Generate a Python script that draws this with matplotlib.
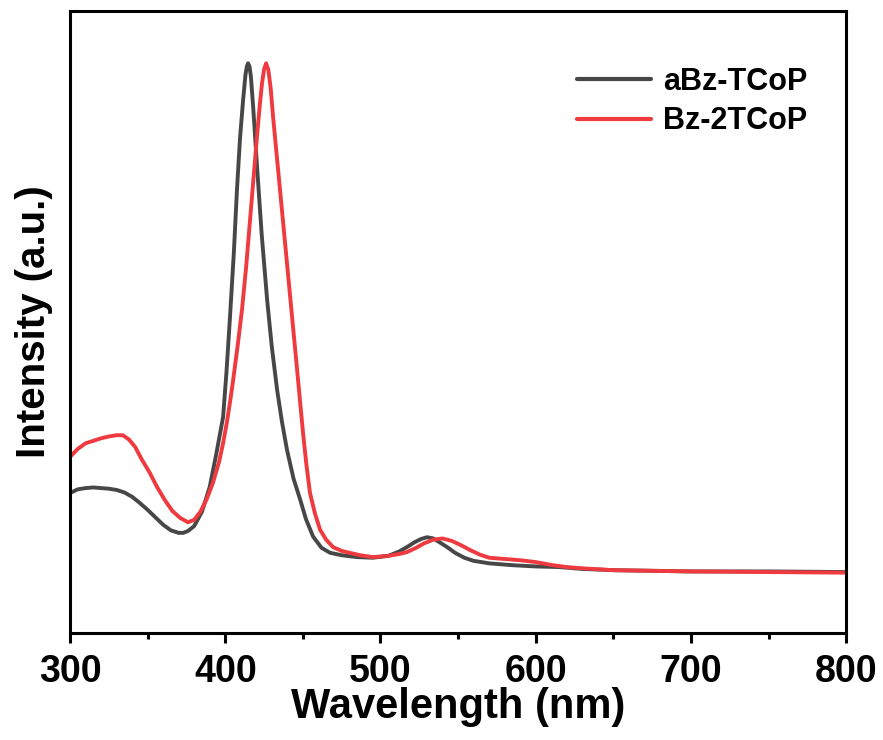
import matplotlib

matplotlib.use('Agg')

import matplotlib.pyplot as plt

# UV-vis absorption spectra (normalised intensity, read per wavelength)
wl_abz = [300, 305, 310, 315, 320, 325, 330, 335, 340, 345, 350, 355, 360,
          365, 370, 373, 376, 380, 385, 390, 394, 398.6, 400.8, 403.1, 405.5,
          407.6, 409.5, 411.5, 413, 413.9, 414.7, 415.6, 416.5, 418, 420.5,
          423.5, 427, 430, 433.4, 436.5, 439.8, 444, 448.2, 452, 456.6, 462,
          467.5, 475, 485, 495, 505, 512, 517, 522, 526, 530, 534, 538, 543,
          548, 554, 560, 570, 585, 600, 615, 630, 650, 700, 750, 800]
int_abz = [0.225, 0.231, 0.233, 0.234, 0.233, 0.232, 0.230, 0.226, 0.219,
           0.209, 0.198, 0.186, 0.174, 0.165, 0.161, 0.161, 0.164, 0.172,
           0.195, 0.235, 0.285, 0.347, 0.420, 0.510, 0.610, 0.715, 0.795,
           0.857, 0.897, 0.911, 0.916, 0.911, 0.895, 0.845, 0.749, 0.640,
           0.535, 0.460, 0.391, 0.340, 0.294, 0.248, 0.215, 0.183, 0.155,
           0.137, 0.129, 0.125, 0.122, 0.121, 0.124, 0.131, 0.138, 0.146,
           0.151, 0.154, 0.152, 0.146, 0.138, 0.129, 0.121, 0.116, 0.112,
           0.109, 0.107, 0.106, 0.103, 0.101, 0.099, 0.099, 0.098]

wl_bz2 = [300, 305, 310, 315, 320, 325, 330, 334, 338, 342, 346, 351.5, 356,
          361, 366, 371, 376, 380, 384, 388, 392, 396, 398.6, 401, 403, 405,
          408, 410.8, 413.5, 416, 418.5, 420.5, 422.3, 423.7, 425, 426.3,
          427.8, 429.3, 430.8, 433, 435.3, 438.5, 441.8, 444, 446.3, 448.2,
          450.1, 452.3, 454.6, 457.8, 461.1, 465, 469.5, 475, 480, 487, 495,
          505, 512, 517, 523, 528, 534, 540, 546, 552, 558, 564, 570, 580,
          590, 600, 611, 620, 630, 650, 700, 750, 800]
int_bz2 = [0.283, 0.296, 0.305, 0.309, 0.313, 0.316, 0.318, 0.318, 0.311,
           0.299, 0.280, 0.257, 0.235, 0.214, 0.196, 0.185, 0.178, 0.182,
           0.195, 0.215, 0.241, 0.275, 0.305, 0.338, 0.370, 0.405, 0.462,
           0.520, 0.590, 0.665, 0.740, 0.800, 0.850, 0.884, 0.906, 0.916,
           0.905, 0.875, 0.830, 0.772, 0.712, 0.628, 0.541, 0.483, 0.423,
           0.372, 0.322, 0.270, 0.225, 0.192, 0.166, 0.150, 0.138, 0.132,
           0.129, 0.125, 0.122, 0.124, 0.127, 0.130, 0.137, 0.144, 0.150,
           0.152, 0.148, 0.141, 0.133, 0.126, 0.121, 0.119, 0.117, 0.114,
           0.109, 0.106, 0.104, 0.101, 0.099, 0.098, 0.097]

series_labels = ['aBz-TCoP', 'Bz-2TCoP']
series_colors = ['#474747', '#ef3a3f']

x_ticks = [300, 400, 500, 600, 700, 800]

plt.rcParams['font.family'] = ['Liberation Sans', 'DejaVu Sans']
plt.rcParams['font.weight'] = 'bold'

fig = plt.figure(figsize=(8.83, 7.40), dpi=100)
ax = fig.add_axes([0.0793, 0.1446, 0.879, 0.8405])

ax.plot(wl_abz, int_abz, color=series_colors[0], lw=2.8, label=series_labels[0],
        solid_joinstyle='round', solid_capstyle='round')
ax.plot(wl_bz2, int_bz2, color=series_colors[1], lw=2.8, label=series_labels[1],
        solid_joinstyle='round', solid_capstyle='round')

ax.set_xlim(300, 800)
ax.set_ylim(0, 1)
ax.set_xticks(x_ticks)
ax.set_xticks(range(350, 800, 100), minor=True)
ax.set_yticks([])

for spine in ax.spines.values():
    spine.set_linewidth(2.2)

ax.tick_params(axis='x', which='major', direction='out', length=7, width=2.2,
               labelsize=27, pad=8)
ax.tick_params(axis='x', which='minor', direction='out', length=4, width=2.2)

ax.set_xlabel('Wavelength (nm)', fontsize=30, fontweight='bold', labelpad=-2)
ax.set_ylabel('Intensity (a.u.)', fontsize=29, fontweight='bold')
ax.yaxis.set_label_coords(-0.022, 0.5)

leg = ax.legend(loc='upper right', frameon=False, fontsize=22, handlelength=2.4,
                handletextpad=0.4, labelspacing=0.32,
                bbox_to_anchor=(0.985, 0.955))
for line in leg.get_lines():
    line.set_linewidth(3)

fig.savefig('out.png', dpi=100)
